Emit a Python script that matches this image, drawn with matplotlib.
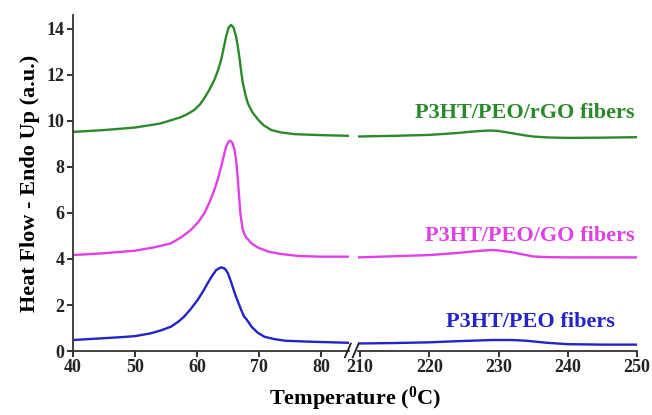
import matplotlib
matplotlib.use("Agg")
import matplotlib.pyplot as plt

# --- data ---
# low temperature part (40 - 84.5 C), each curve read at its own temperatures
t_rgo_low = [40, 45, 50, 54, 55.5, 57.4, 58.5, 59.6, 60.5, 61.2, 62.0, 62.8, 63.4, 63.9,
             64.3, 64.7, 65.1, 65.5, 65.9, 66.3, 66.6, 66.9, 67.15, 67.4, 67.8, 68.2,
             68.6, 69.0, 69.9, 70.8, 72.0, 73.5, 75.8, 80, 84.5]
rgo_low = [9.52, 9.6, 9.71, 9.88, 10.0, 10.16, 10.3, 10.48, 10.72, 10.99, 11.35, 11.78,
           12.2, 12.65, 13.15, 13.67, 14.05, 14.17, 14.05, 13.67, 13.2, 12.65, 12.1,
           11.64, 11.15, 10.77, 10.55, 10.35, 10.04, 9.8, 9.6, 9.5, 9.42, 9.38, 9.35]

t_go_low = [40, 45, 50, 53, 55.8, 57.5, 59.0, 60.2, 61.2, 62.0, 62.8, 63.4, 63.9, 64.3,
            64.7, 65.05, 65.37, 65.7, 66.07, 66.35, 66.6, 66.8, 67.0, 67.2, 67.4, 67.8,
            68.0, 68.8, 69.8, 71.5, 73.5, 76.4, 80, 84.5]
go_low = [4.17, 4.25, 4.36, 4.5, 4.68, 4.95, 5.26, 5.6, 5.99, 6.45, 7.0, 7.5, 8.01, 8.45,
          8.88, 9.08, 9.14, 9.05, 8.74, 8.2, 7.43, 6.7, 5.99, 5.6, 5.26, 5.0, 4.92, 4.68,
          4.5, 4.32, 4.22, 4.13, 4.1, 4.1]

t_peo_low = [40, 45, 48, 50, 52.5, 54.2, 55.8, 57.0, 57.9, 59.0, 60.1, 61.0, 61.7, 62.4,
             63.1, 63.9, 64.5, 65.0, 65.5, 66.1, 66.6, 67.15, 67.6, 68.0, 68.8, 69.8,
             70.9, 72.5, 74.2, 78.0, 84.5]
peo_low = [0.48, 0.56, 0.61, 0.65, 0.77, 0.9, 1.06, 1.28, 1.49, 1.83, 2.22, 2.6, 2.94,
           3.25, 3.52, 3.64, 3.58, 3.38, 3.0, 2.51, 2.15, 1.78, 1.5, 1.38, 1.06, 0.8,
           0.62, 0.52, 0.45, 0.41, 0.36]

# high temperature part (210 - 250 C)
t_high = [209.7, 215, 220, 224, 226, 228, 229, 230, 232, 234, 235, 237, 240, 245, 250]
rgo_high = [9.32, 9.35, 9.39, 9.47, 9.53, 9.57, 9.58, 9.56, 9.46, 9.36, 9.32, 9.28, 9.26, 9.27, 9.29]
go_high = [4.07, 4.12, 4.17, 4.26, 4.32, 4.37, 4.39, 4.37, 4.29, 4.17, 4.11, 4.08, 4.07, 4.07, 4.07]
peo_high = [0.33, 0.35, 0.38, 0.43, 0.45, 0.47, 0.48, 0.48, 0.48, 0.45, 0.42, 0.36, 0.3, 0.28, 0.28]

labels = ["P3HT/PEO/rGO fibers", "P3HT/PEO/GO fibers", "P3HT/PEO fibers"]
colors = ["#2a8a2a", "#e040e6", "#2323c8"]

plt.rcParams["font.family"] = ["Liberation Serif", "DejaVu Serif"]
plt.rcParams["font.weight"] = "bold"
plt.rcParams["mathtext.fontset"] = "custom"
plt.rcParams["mathtext.rm"] = "Liberation Serif:bold"

fig = plt.figure(figsize=(6.52, 4.15), dpi=100)
ax1 = fig.add_axes([0.112, 0.154, 0.423, 0.81])
ax2 = fig.add_axes([0.549, 0.154, 0.428, 0.81])

lows = [(t_rgo_low, rgo_low), (t_go_low, go_low), (t_peo_low, peo_low)]
highs = [rgo_high, go_high, peo_high]
for (tl, lo), hi, c in zip(lows, highs, colors):
    ax1.plot(tl, lo, color=c, lw=1.7, solid_joinstyle="round")
    ax2.plot(t_high, hi, color=c, lw=1.7, solid_joinstyle="round")

for ax in (ax1, ax2):
    ax.set_ylim(0, 14.6)
    ax.spines["top"].set_visible(False)
    ax.spines["right"].set_visible(False)
    for s in ax.spines.values():
        s.set_linewidth(1.3)
        s.set_color("#333333")
    ax.tick_params(direction="out", length=4, width=1.3, labelsize=13, colors="#222222",
                   pad=2)

ax1.set_xlim(40, 84.5)
ax1.set_xticks([40, 50, 60, 70, 80])
ax1.set_yticks([0, 2, 4, 6, 8, 10, 12, 14])
ax2.set_xlim(209.7, 250)
ax2.set_xticks([210, 220, 230, 240, 250])
ax2.spines["left"].set_visible(False)
ax2.set_yticks([])

ax1.set_ylabel("Heat Flow - Endo Up (a.u.)", fontsize=16, fontweight="bold", labelpad=5)
fig.text(0.545, 0.005, "Temperature ($\\mathregular{^0}$C)", ha="center", va="bottom",
         fontsize=16, fontweight="bold")

# axis break marks
for xf in (0.534, 0.546):
    fig.add_artist(plt.Line2D([xf - 0.005, xf + 0.004], [0.139, 0.172],
                              color="#222222", lw=1.3))

# curve labels
ax2.text(249.6, 10.35, labels[0], color=colors[0], ha="right", va="center", fontsize=16)
ax2.text(249.6, 5.0, labels[1], color=colors[1], ha="right", va="center", fontsize=16)
ax2.text(246.8, 1.25, labels[2], color=colors[2], ha="right", va="center", fontsize=16)

fig.savefig("out.png", dpi=100)
